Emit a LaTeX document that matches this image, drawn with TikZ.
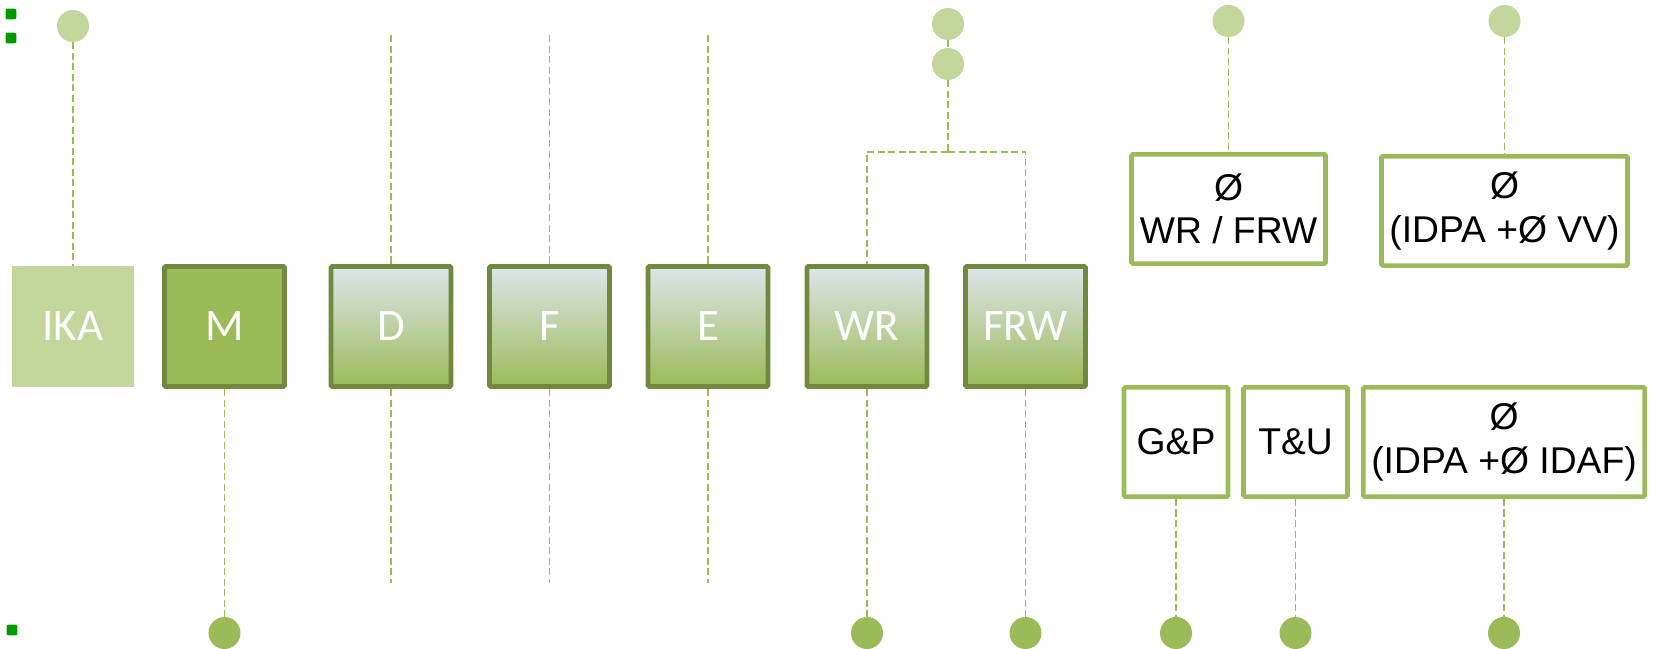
\documentclass[tikz,border=0pt]{standalone}
\usepackage{fontspec}
\setmainfont{Liberation Sans}
\newfontfamily\boxfont{Carlito}
\definecolor{dkgreen}{HTML}{71893F}
\definecolor{midgreen}{HTML}{9BBB59}
\definecolor{ltgreen}{HTML}{C3D69B}
\definecolor{topgray}{HTML}{DDE5EA}
\definecolor{dotgreen}{HTML}{009A00}

\begin{document}
\begin{tikzpicture}[x=0.025cm, y=-0.025cm,
  every node/.style={inner sep=0pt},
  unit/.style={draw=dkgreen, line width=3.5pt, rounded corners=1pt,
    minimum size=3cm, text=white,
    font=\boxfont\fontsize{32}{38}\selectfont},
  shadedunit/.style={unit, top color=topgray, middle color=ltgreen!85!white,
    bottom color=midgreen},
  info/.style={draw=midgreen, line width=3.3pt, rounded corners=1pt,
    fill=white, minimum height=2.73cm, align=center,
    font=\fontsize{26.5}{31}\selectfont},
  topdot/.style={circle, fill=ltgreen, minimum size=0.8cm},
  botdot/.style={circle, fill=midgreen, minimum size=0.8cm},
  bullet/.style={fill=dotgreen, rounded corners=1.5pt, minimum size=0.27cm},
  link/.style={draw=midgreen, line width=1.3pt, dash pattern=on 5pt off 2.5pt}]

\useasboundingbox (0,0) rectangle (1655,649);

% bullets at the left edge

\node[bullet] (b1) at (11,14) {};
\node[bullet] (b2) at (11,38) {};
\node[bullet] (b3) at (12,630) {};

% the row of units

\node[fill=ltgreen, minimum size=3.025cm, text=white,
  font=\boxfont\fontsize{32}{38}\selectfont] (ika) at (73,326.5) {IKA};
\node[unit, fill=midgreen] (m) at (224.5,326.5) {M};
\node[shadedunit] (d) at (391,326.5) {D};
\node[shadedunit] (f) at (549.5,326.5) {F};
\node[shadedunit] (e) at (708,326.5) {E};
\node[shadedunit] (wr) at (867,326.5) {WR};
\node[shadedunit] (frw) at (1025.5,326.5) {FRW};

% boxes on the right

\node[info, minimum width=4.85cm] (avg1) at (1228.5,209) {Ø\\WR / FRW};
\node[info, minimum width=6.15cm] (avg2) at (1504.5,211) {Ø\\(IDPA +Ø VV)};
\node[info, minimum width=2.6cm] (gp) at (1176,442) {G\&P};
\node[info, minimum width=2.6cm] (tu) at (1295.5,442) {T\&U};
\node[info, minimum width=7.03cm] (avg3) at (1504,442) {Ø\\(IDPA +Ø IDAF)};

% circles

\node[topdot] (cika) at (73,26) {};
\node[topdot] (cwr1) at (948,24) {};
\node[topdot] (cwr2) at (948,64) {};
\node[topdot] (cavg1) at (1228.5,21) {};
\node[topdot] (cavg2) at (1504.5,21) {};
\node[botdot] (cm) at (224.5,633) {};
\node[botdot] (cwr) at (867,633) {};
\node[botdot] (cfrw) at (1025.5,633) {};
\node[botdot] (cgp) at (1176,633) {};
\node[botdot] (ctu) at (1295.5,633) {};
\node[botdot] (cavg3) at (1504,633) {};

% free ends

\coordinate (dtop) at (391,35);
\coordinate (ftop) at (549.5,35);
\coordinate (etop) at (708,35);
\coordinate (dbot) at (391,583);
\coordinate (fbot) at (549.5,583);
\coordinate (ebot) at (708,583);
\coordinate (fork) at (948,152);

% edges

\draw[link] (cika) -- (ika);
\draw[link] (dtop) -- (d);
\draw[link] (ftop) -- (f);
\draw[link] (etop) -- (e);
\draw[link] (d) -- (dbot);
\draw[link] (f) -- (fbot);
\draw[link] (e) -- (ebot);
\draw[link] (m) -- (cm);
\draw[link] (cwr1) -- (cwr2);
\draw[link] (cwr2) -- (fork);
\draw[link] (fork) -| (wr);
\draw[link] (fork) -| (frw);
\draw[link] (wr) -- (cwr);
\draw[link] (frw) -- (cfrw);
\draw[link] (cavg1) -- (avg1);
\draw[link] (cavg2) -- (avg2);
\draw[link] (gp) -- (cgp);
\draw[link] (tu) -- (ctu);
\draw[link] (avg3) -- (cavg3);

\end{tikzpicture}
\end{document}
